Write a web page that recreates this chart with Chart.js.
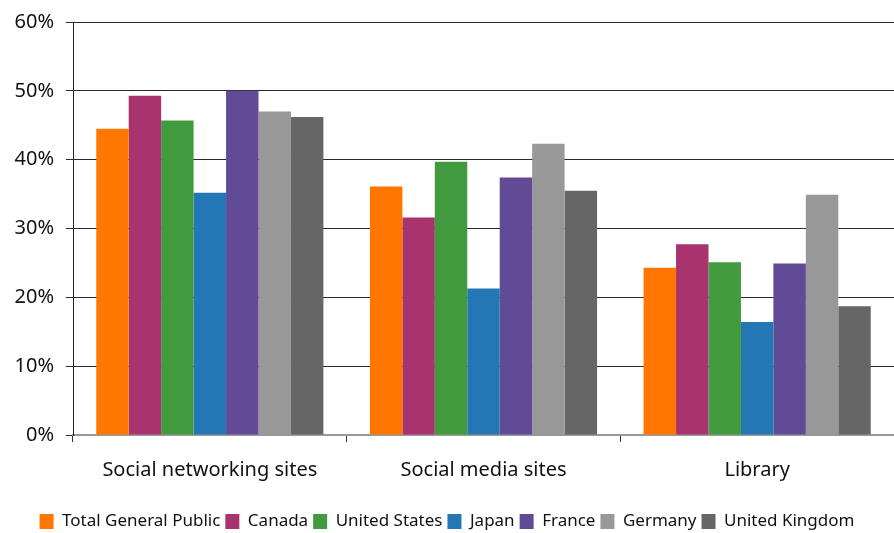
<!DOCTYPE html>
<html lang="en">
<head>
    <meta charset="UTF-8">
    <title>Social sites vs library</title>
    <script src="https://cdn.jsdelivr.net/npm/chart.js"></script>
    <style>
        html, body { margin: 0; padding: 0; background: #fff; }
        #chart { display: block; }
    </style>
</head>
<body>
    <canvas id="chart" width="894" height="533"></canvas>

    <script>
        // values (percent)
        const categories = ['Social networking sites', 'Social media sites', 'Library'];
        const seriesNames = ['Total General Public', 'Canada', 'United States', 'Japan', 'France', 'Germany', 'United Kingdom'];
        const totalPublic = [44.5, 36.1, 24.3];
        const canada = [49.3, 31.6, 27.7];
        const unitedStates = [45.7, 39.7, 25.1];
        const japan = [35.2, 21.3, 16.4];
        const france = [50.0, 37.4, 24.9];
        const germany = [47.0, 42.3, 34.9];
        const unitedKingdom = [46.2, 35.5, 18.7];
        const yTicks = [0, 10, 20, 30, 40, 50, 60];

        const seriesValues = [totalPublic, canada, unitedStates, japan, france, germany, unitedKingdom];
        const colors = ['#ff7700', '#a8336e', '#429a3e', '#2377b4', '#614b96', '#989898', '#666666'];
        const font = '"Noto Sans", sans-serif';

        new Chart(document.getElementById('chart'), {
            type: 'bar',
            data: {
                labels: categories,
                datasets: seriesNames.map((name, i) => ({
                    label: name,
                    data: seriesValues[i],
                    backgroundColor: colors[i],
                    borderWidth: 0,
                    categoryPercentage: 0.83,
                    barPercentage: 1.0
                }))
            },
            options: {
                responsive: false,
                animation: false,
                layout: { padding: { top: 21, right: 0, left: 0, bottom: -7 } },
                plugins: {
                    tooltip: { enabled: false },
                    legend: {
                        position: 'bottom',
                        labels: {
                            boxWidth: 14,
                            boxHeight: 15,
                            padding: 5,
                            color: '#111',
                            font: { family: font, size: 17 }
                        }
                    }
                },
                scales: {
                    x: {
                        grid: {
                            offset: true,
                            drawOnChartArea: false,
                            color: '#333',
                            tickLength: 7
                        },
                        border: { color: '#999', width: 2 },
                        ticks: {
                            color: '#111',
                            padding: 16,
                            font: { family: font, size: 20 }
                        },
                        afterFit: s => { s.height = 73; }
                    },
                    y: {
                        min: 0,
                        max: 60,
                        afterBuildTicks: s => { s.ticks = yTicks.map(v => ({ value: v })); },
                        grid: {
                            color: '#2a2a2a',
                            lineWidth: 1,
                            tickLength: 7
                        },
                        border: { color: '#222', width: 1 },
                        ticks: {
                            color: '#111',
                            padding: 12,
                            font: { family: font, size: 20, lineHeight: 1.0 },
                            callback: v => v + '%'
                        },
                        afterFit: s => { s.width = 73; }
                    }
                }
            }
        });
    </script>
</body>
</html>
